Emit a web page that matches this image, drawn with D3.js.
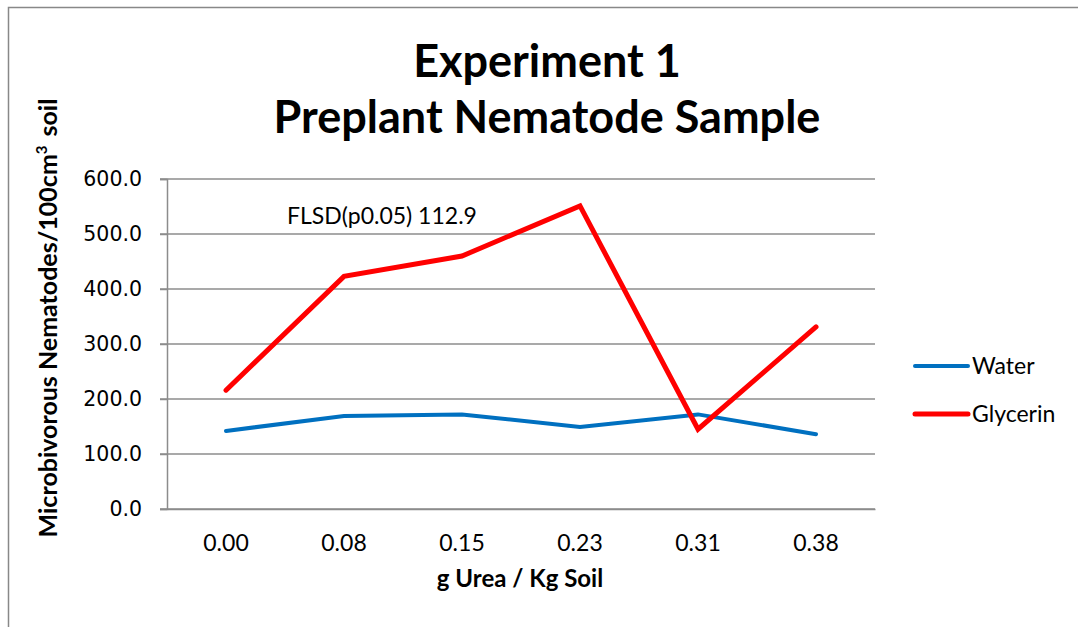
<!DOCTYPE html>
<html>
<head>
<meta charset="utf-8">
<script src="https://cdn.jsdelivr.net/npm/d3@7"></script>
<style>
  body { margin: 0; background: #fff; }
  svg text { font-family: Lato, "Open Sans", sans-serif; fill: #000; }
</style>
</head>
<body>
<div id="chart"></div>
<script>
// data
const doses = ["0.00", "0.08", "0.15", "0.23", "0.31", "0.38"];
const water = [142, 169, 172, 149, 172, 136];
const glycerin = [216, 423, 460, 551, 145, 331];
const yTicks = [0, 100, 200, 300, 400, 500, 600];

const series = [
    { name: "Water", values: water, color: "#0070C0", width: 4 },
    { name: "Glycerin", values: glycerin, color: "#FF0000", width: 5 }
];

const width = 1078, height = 627;
const margin = { top: 179, right: 203, bottom: 118, left: 167 };
const innerWidth = width - margin.left - margin.right;
const innerHeight = height - margin.top - margin.bottom;

const svg = d3.select("#chart").append("svg")
    .attr("width", width)
    .attr("height", height);

// chart frame, only the top and left edges are in view
svg.append("path")
    .attr("d", `M8.5,${height} V7.5 H${width}`)
    .attr("fill", "none")
    .attr("stroke", "#888").attr("stroke-width", 1.5);

const g = svg.append("g")
    .attr("transform", `translate(${margin.left},${margin.top})`);

const x = d3.scaleBand().domain(doses).range([0, innerWidth]);
const y = d3.scaleLinear().domain([0, 600]).range([innerHeight, 0]);

// gridlines
g.append("g")
    .selectAll("line")
    .data(yTicks)
    .join("line")
    .attr("x1", -7).attr("x2", innerWidth)
    .attr("y1", d => y(d)).attr("y2", d => y(d))
    .attr("stroke", "#8c8c8c").attr("stroke-width", 1.5);

// y axis
const yAxis = g.append("g")
    .call(d3.axisLeft(y).tickValues(yTicks).tickFormat(d3.format(".1f")).tickSize(7).tickPadding(18))
    .attr("font-family", null).attr("font-size", null);
yAxis.select(".domain").attr("stroke", "#8c8c8c").attr("stroke-width", 1.5);
yAxis.selectAll(".tick line").attr("stroke", "#8c8c8c").attr("stroke-width", 1.5);
yAxis.selectAll("text")
    .style("font-family", "'DejaVu Sans', Verdana, sans-serif")
    .style("font-size", "20.5px").attr("fill", "#000");

// x axis
const xAxis = g.append("g")
    .attr("transform", `translate(0,${innerHeight})`)
    .call(d3.axisBottom(x).tickSize(0).tickPadding(26))
    .attr("font-family", null).attr("font-size", null);
xAxis.select(".domain").attr("stroke", "#8c8c8c").attr("stroke-width", 1.5);
xAxis.selectAll("text")
    .style("font-size", "23px").attr("fill", "#000");

// lines
const line = d3.line()
    .x((d, i) => x(doses[i]) + x.bandwidth() / 2)
    .y(d => y(d));

g.selectAll(".series")
    .data(series)
    .join("path")
    .attr("class", "series")
    .attr("d", d => line(d.values))
    .attr("fill", "none")
    .attr("stroke", d => d.color)
    .attr("stroke-width", d => d.width)
    .attr("stroke-linecap", "round")
    .attr("stroke-linejoin", "miter");

// annotation
g.append("text")
    .attr("x", 120).attr("y", 45)
    .style("font-size", "23px")
    .text("FLSD(p0.05) 112.9");

// titles
svg.append("text")
    .attr("x", 547).attr("y", 77)
    .attr("text-anchor", "middle")
    .style("font-size", "45px").style("font-weight", "bold")
    .text("Experiment 1");
svg.append("text")
    .attr("x", 547).attr("y", 133)
    .attr("text-anchor", "middle")
    .style("font-size", "45px").style("font-weight", "bold")
    .text("Preplant Nematode Sample");

svg.append("text")
    .attr("x", 520).attr("y", 587)
    .attr("text-anchor", "middle")
    .style("font-size", "24px").style("font-weight", "bold")
    .text("g Urea / Kg Soil");

const yTitle = svg.append("text")
    .attr("transform", "translate(57,318) rotate(-90)")
    .attr("text-anchor", "middle")
    .style("font-size", "25px").style("font-weight", "bold");
yTitle.append("tspan").text("Microbivorous Nematodes/100cm");
yTitle.append("tspan").attr("dy", -10).style("font-size", "15px").text("3");
yTitle.append("tspan").attr("dy", 10).attr("dx", 9).text("soil");

// legend
const legend = svg.append("g")
    .attr("transform", "translate(915,366)");
series.forEach((s, i) => {
    legend.append("line")
        .attr("x1", 0).attr("x2", 53)
        .attr("y1", i * 48).attr("y2", i * 48)
        .attr("stroke", s.color)
        .attr("stroke-width", s.width)
        .attr("stroke-linecap", "round");
    legend.append("text")
        .attr("x", 57).attr("y", i * 48 + 8)
        .style("font-size", "23px")
        .text(s.name);
});
</script>
</body>
</html>
